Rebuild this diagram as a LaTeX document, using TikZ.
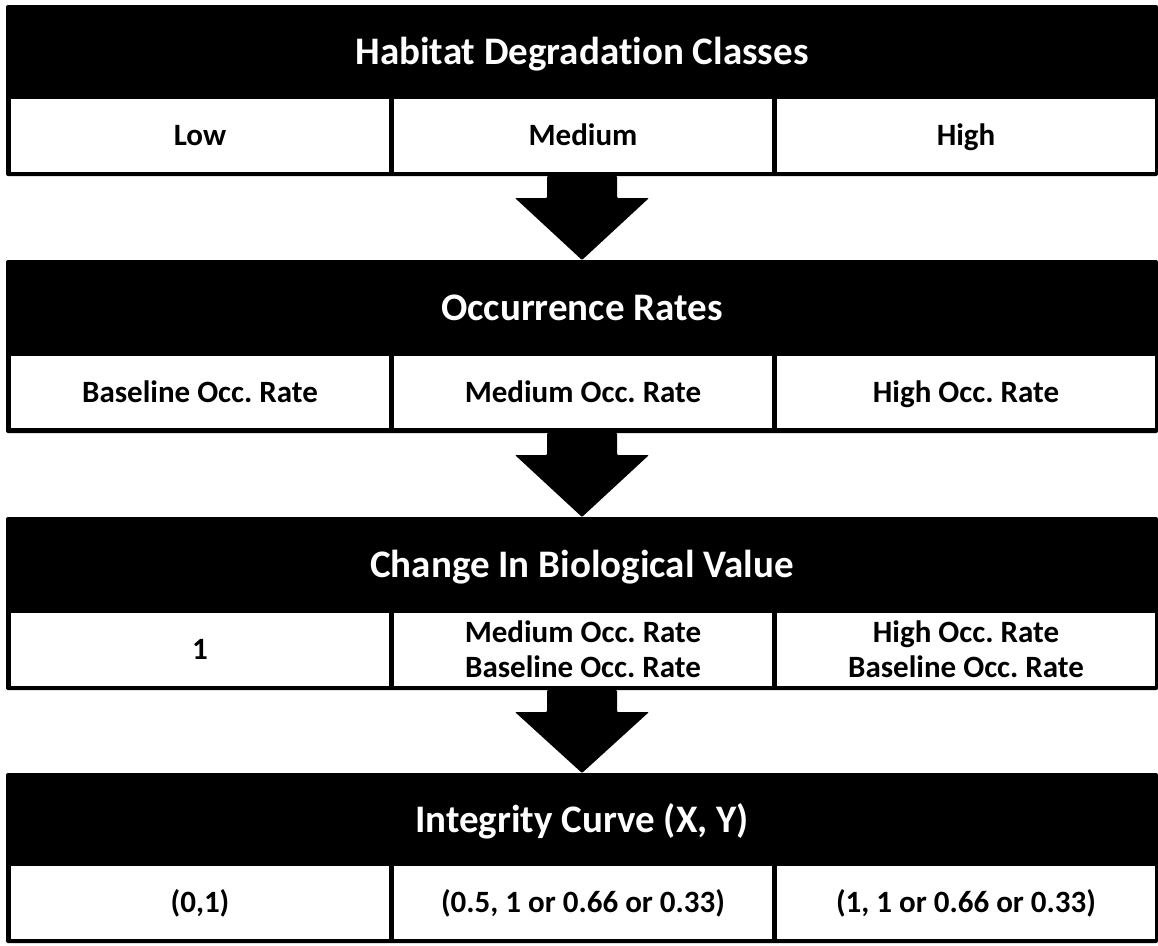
\documentclass[tikz,border=0pt]{standalone}
\usepackage{fontspec}
\setmainfont{Carlito}[Ligatures=NoCommon]
\usetikzlibrary{calc}
\frenchspacing
\tikzset{
  panel/.style={fill=black, rounded corners=2pt, inner sep=0pt, outer sep=0pt, anchor=north west, minimum width=1152pt},
  band/.style={text=white, font=\bfseries\fontsize{39}{44}\selectfont, inner sep=0pt, text height=33pt, text depth=8pt},
  cellbox/.style={fill=white, inner sep=0pt, outer sep=0pt, anchor=north west, minimum width=378pt, minimum height=73pt, font=\bfseries\fontsize{31}{35}\selectfont, align=center},
  cell/.style={cellbox, text height=26pt, text depth=6pt},
  flow/.style={fill=black, rounded corners=1pt},
}
\newcommand{\flowarrow}[2]{%
  \fill[flow] ($(#1.south)+(-35,0)$) -- ($(#1.south)+(35,0)$) -- ($(#1.south)+(35,22)$) -- ($(#1.south)+(67,22)$)
    -- (#2.north) -- ($(#1.south)+(-67,22)$) -- ($(#1.south)+(-35,22)$) -- cycle;}
\begin{document}
\begin{tikzpicture}[x=1pt,y=-1pt]
\useasboundingbox (0,0) rectangle (1158,945);
% panel 1
\node[panel, minimum height=171pt] (p1) at (6,5) {};
\node[band] (t1) at (582,52) {Habitat Degradation Classes};
\node[cell] (c11) at (11,99) {Low};
\node[cell] (c12) at (394,99) {Medium};
\node[cell] (c13) at (777,99) {High};
% panel 2
\node[panel, minimum height=173pt] (p2) at (6,260) {};
\node[band] (t2) at (582,308) {Occurrence Rates};
\node[cell, minimum height=72pt] (c21) at (11,356) {Baseline Occ. Rate};
\node[cell, minimum height=72pt] (c22) at (394,356) {Medium Occ. Rate};
\node[cell, minimum height=72pt] (c23) at (777,356) {High Occ. Rate};
% panel 3
\node[panel, minimum height=173pt] (p3) at (6,517) {};
\node[band] (t3) at (582,565) {Change In Biological Value};
\node[cell] (c31) at (11,613) {1};
\node[cellbox] (c32) at (394,613) {Medium Occ. Rate\\Baseline Occ. Rate};
\node[cellbox] (c33) at (777,613) {High Occ. Rate\\Baseline Occ. Rate};
% panel 4
\node[panel, minimum height=170pt] (p4) at (6,773) {};
\node[band] (t4) at (582,819.5) {Integrity Curve (X, Y)};
\node[cell] (c41) at (11,866) {(0,1)};
\node[cell] (c42) at (394,866) {(0.5, 1 or 0.66 or 0.33)};
\node[cell] (c43) at (777,866) {(1, 1 or 0.66 or 0.33)};
% arrows
\flowarrow{p1}{p2}
\flowarrow{p2}{p3}
\flowarrow{p3}{p4}
\end{tikzpicture}
\end{document}
